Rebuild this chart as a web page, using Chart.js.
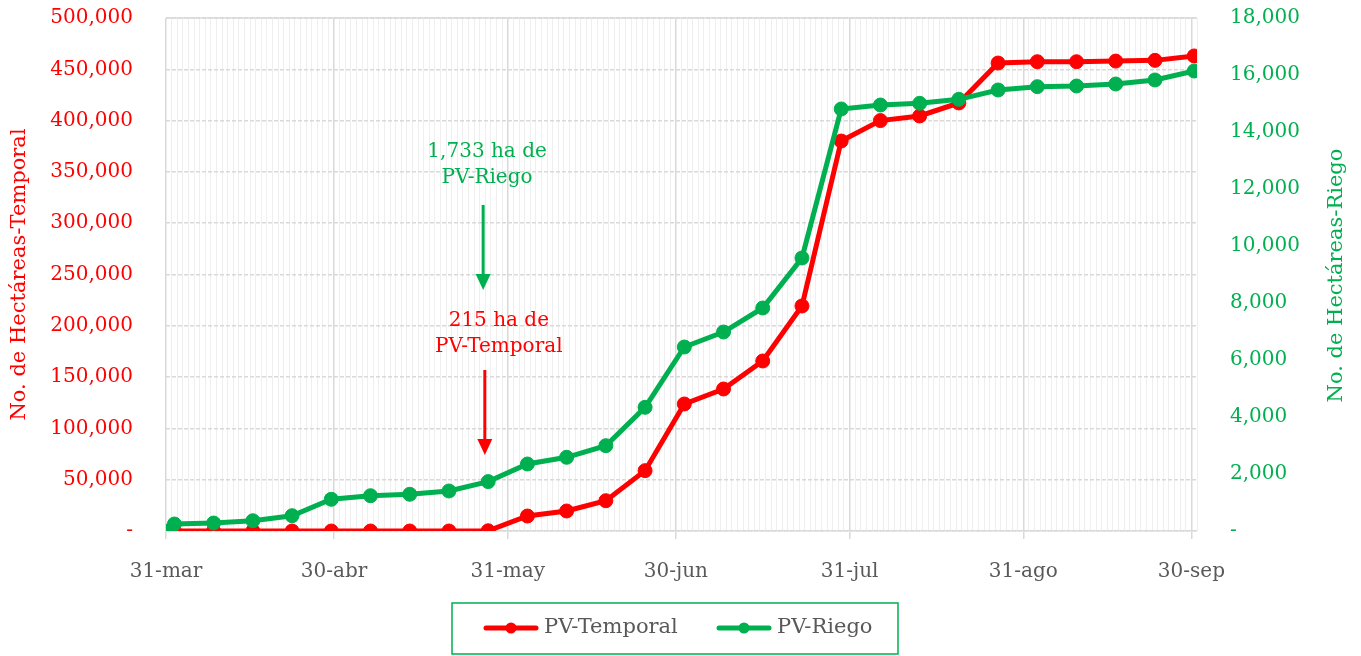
<!DOCTYPE html>
<html>
<head>
<meta charset="utf-8">
<script src="https://cdn.jsdelivr.net/npm/chart.js@4.4.0/dist/chart.umd.min.js"></script>
<style>
  html, body { margin: 0; padding: 0; background: #fff; }
  canvas { display: block; }
</style>
</head>
<body>
<canvas id="grafica" width="1361" height="656"></canvas>
<script>
// Días contados desde el 31-mar (corte semanal)
const dias = [0, 1, 8, 15, 22, 29, 36, 43, 50, 57, 64, 71, 78, 85, 92, 99, 106, 113, 120, 127, 134, 141, 148, 155, 162, 169, 176, 183];

// Hectáreas acumuladas
const pvTemporal = [0, 0, 0, 0, 0, 0, 0, 0, 0, 215, 14600, 19500, 29500, 58800, 123800, 138400, 165700, 219300, 380100, 400000, 404500, 417200, 456100, 457400, 457400, 458000, 458700, 463000];
const pvRiego = [0, 245, 280, 360, 537, 1112, 1238, 1288, 1404, 1733, 2351, 2586, 2993, 4340, 6456, 6982, 7825, 9579, 14807, 14947, 15006, 15147, 15474, 15591, 15614, 15684, 15825, 16140];

// Etiquetas del eje X (fin de mes)
const diasMes = [0, 30, 61, 91, 122, 153, 183];
const etiquetasMes = ['31-mar', '30-abr', '31-may', '30-jun', '31-jul', '31-ago', '30-sep'];

// Anotaciones con flecha
const notas = [
    { lineas: ['1,733 ha de', 'PV-Riego'], color: '#00b050', xTexto: 57.3, yTexto: 369400, xFlecha: 56.6, yDesde: 317800, yHasta: 234900 },
    { lineas: ['215 ha de', 'PV-Temporal'], color: '#ff0000', xTexto: 59.4, yTexto: 204700, xFlecha: 56.9, yDesde: 156900, yHasta: 74100 }
];

const ROJO = '#ff0000';
const VERDE = '#00b050';
const GRIS = '#595959';
const FUENTE = 'DejaVu Serif';

const puntos = (serie) => serie.map((v, i) => ({ x: dias[i] + 0.5, y: v }));

// Dibuja anotaciones, título derecho, marco superior y leyenda
const extras = {
    id: 'extras',
    beforeDatasetsDraw(chart) {
        const { ctx, chartArea } = chart;
        ctx.save();
        ctx.strokeStyle = '#d9d9d9';
        ctx.lineWidth = 1.5;
        ctx.beginPath();
        ctx.moveTo(chartArea.left, chartArea.top);
        ctx.lineTo(chartArea.right, chartArea.top);
        ctx.stroke();
        ctx.restore();
    },
    afterDraw(chart) {
        const { ctx, scales, chartArea } = chart;
        const x = scales.x, y = scales.y;
        ctx.save();

        // anotaciones
        notas.forEach(n => {
            ctx.fillStyle = n.color;
            ctx.font = `20px "${FUENTE}"`;
            ctx.textAlign = 'center';
            ctx.textBaseline = 'middle';
            const tx = x.getPixelForValue(n.xTexto);
            const ty = y.getPixelForValue(n.yTexto);
            n.lineas.forEach((l, i) => ctx.fillText(l, tx, ty + i * 26));

            const ax = x.getPixelForValue(n.xFlecha);
            const a0 = y.getPixelForValue(n.yDesde);
            const a1 = y.getPixelForValue(n.yHasta);
            ctx.strokeStyle = n.color;
            ctx.lineWidth = 3;
            ctx.beginPath();
            ctx.moveTo(ax, a0);
            ctx.lineTo(ax, a1 - 14);
            ctx.stroke();
            ctx.beginPath();
            ctx.moveTo(ax - 7.5, a1 - 16);
            ctx.lineTo(ax + 7.5, a1 - 16);
            ctx.lineTo(ax, a1);
            ctx.closePath();
            ctx.fill();
        });

        // título del eje derecho (de abajo hacia arriba)
        const y1 = scales.y1;
        ctx.fillStyle = VERDE;
        ctx.font = `21px "${FUENTE}"`;
        ctx.textAlign = 'center';
        ctx.textBaseline = 'middle';
        ctx.translate(y1.right - 24, (chartArea.top + chartArea.bottom) / 2 + 1);
        ctx.rotate(-Math.PI / 2);
        ctx.fillText('No. de Hectáreas-Riego', 0, 0);
        ctx.restore();

        // leyenda con marco
        ctx.save();
        const bx = 452, by = 603, bw = 446, bh = 51;
        ctx.strokeStyle = VERDE;
        ctx.lineWidth = 1.5;
        ctx.strokeRect(bx, by, bw, bh);
        const items = [
            { texto: 'PV-Temporal', color: ROJO, x0: 484 },
            { texto: 'PV-Riego', color: VERDE, x0: 717 }
        ];
        const ly = by + 25;
        items.forEach(it => {
            ctx.strokeStyle = it.color;
            ctx.fillStyle = it.color;
            ctx.lineWidth = 5;
            ctx.lineCap = 'round';
            ctx.beginPath();
            ctx.moveTo(it.x0 + 2, ly);
            ctx.lineTo(it.x0 + 52, ly);
            ctx.stroke();
            ctx.beginPath();
            ctx.arc(it.x0 + 27, ly, 5.5, 0, Math.PI * 2);
            ctx.fill();
            ctx.fillStyle = GRIS;
            ctx.font = `21px "${FUENTE}"`;
            ctx.textAlign = 'left';
            ctx.textBaseline = 'middle';
            ctx.fillText(it.texto, it.x0 + 60, ly);
        });
        ctx.restore();
    }
};

new Chart(document.getElementById('grafica'), {
    type: 'line',
    data: {
        datasets: [
            {
                label: 'PV-Temporal',
                data: puntos(pvTemporal),
                yAxisID: 'y',
                borderColor: ROJO,
                backgroundColor: ROJO,
                borderWidth: 5,
                pointRadius: 7,
                pointBorderWidth: 1,
                pointBorderColor: ROJO,
                pointBackgroundColor: ROJO,
                tension: 0,
                order: 2
            },
            {
                label: 'PV-Riego',
                data: puntos(pvRiego),
                yAxisID: 'y1',
                borderColor: VERDE,
                backgroundColor: VERDE,
                borderWidth: 5,
                pointRadius: 7,
                pointBorderWidth: 1,
                pointBorderColor: VERDE,
                pointBackgroundColor: VERDE,
                tension: 0,
                order: 1
            }
        ]
    },
    options: {
        responsive: false,
        animation: false,
        layout: { padding: { top: 18, bottom: 0, left: 0, right: 0 } },
        plugins: {
            legend: { display: false },
            tooltip: { enabled: false }
        },
        scales: {
            x: {
                type: 'linear',
                min: 0,
                max: 184,
                afterBuildTicks: (axis) => {
                    axis.ticks = Array.from({ length: 185 }, (_, i) => ({ value: i }));
                },
                afterFit: (s) => { s.height = 125; },
                ticks: {
                    autoSkip: false,
                    maxRotation: 0,
                    minRotation: 0,
                    color: GRIS,
                    padding: 21,
                    font: { family: FUENTE, size: 20 },
                    callback: (v) => {
                        const k = diasMes.indexOf(v);
                        return k >= 0 ? etiquetasMes[k] : '';
                    }
                },
                grid: {
                    color: (c) => diasMes.includes(c.tick && c.tick.value) ? '#d9d9d9' : '#efefef',
                    lineWidth: (c) => diasMes.includes(c.tick && c.tick.value) ? 1.5 : 1,
                    tickLength: 8,
                    tickColor: (c) => diasMes.includes(c.tick && c.tick.value) ? '#d9d9d9' : 'rgba(0,0,0,0)'
                },
                border: { color: '#d9d9d9', width: 1.5 }
            },
            y: {
                position: 'left',
                min: 0,
                max: 500000,
                afterFit: (s) => { s.width = 166; },
                ticks: {
                    stepSize: 50000,
                    color: ROJO,
                    padding: 3,
                    font: { family: FUENTE, size: 20 },
                    callback: (v) => v === 0 ? '-' : v.toLocaleString('en-US')
                },
                grid: { color: '#d9d9d9', lineWidth: 1.5, drawTicks: true, tickLength: 30, tickColor: 'rgba(0,0,0,0)' },
                border: { display: false, dash: [4, 2] },
                title: {
                    display: true,
                    text: 'No. de Hectáreas-Temporal',
                    color: ROJO,
                    font: { family: FUENTE, size: 21 },
                    padding: { top: 7, bottom: 0 }
                }
            },
            y1: {
                position: 'right',
                min: 0,
                max: 18000,
                afterFit: (s) => { s.width = 164; },
                ticks: {
                    stepSize: 2000,
                    color: VERDE,
                    padding: 3,
                    font: { family: FUENTE, size: 20 },
                    callback: (v) => v === 0 ? '-' : v.toLocaleString('en-US')
                },
                grid: { display: true, drawOnChartArea: false, drawTicks: true, tickLength: 30, tickColor: 'rgba(0,0,0,0)', color: 'rgba(0,0,0,0)' },
                border: { display: false }
            }
        }
    },
    plugins: [extras]
});
</script>
</body>
</html>
